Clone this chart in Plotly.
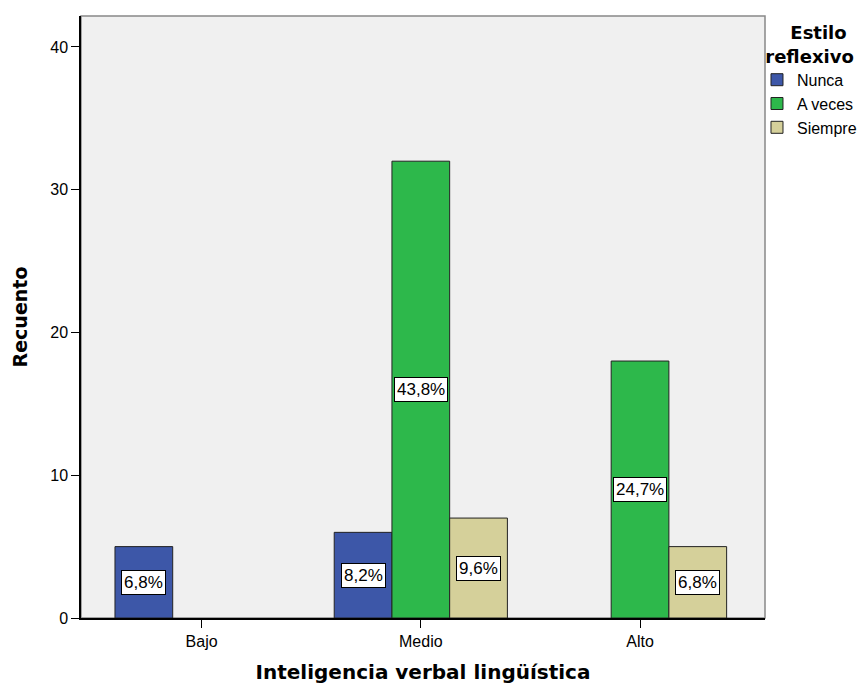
import plotly.graph_objects as go

categories = ["Bajo", "Medio", "Alto"]
series_names = ["Nunca", "A veces", "Siempre"]
nunca = [5, 6, None]
a_veces = [None, 32, 18]
siempre = [None, 7, 5]
nunca_pct = ["6,8%", "8,2%", None]
a_veces_pct = [None, "43,8%", "24,7%"]
siempre_pct = [None, "9,6%", "6,8%"]

colors = ["#3d57a8", "#2db84b", "#d5d09a"]
series_vals = [nunca, a_veces, siempre]
series_pct = [nunca_pct, a_veces_pct, siempre_pct]

bargap = 0.21
nser = len(series_names)
bw = (1 - bargap) / nser

SANS = "Liberation Sans, Arial"
BOLD = "DejaVu Sans, Verdana"

fig = go.Figure()
for name, vals, col in zip(series_names, series_vals, colors):
    fig.add_trace(go.Bar(
        x=categories, y=vals, name=name,
        marker=dict(color=col, line=dict(color="#222222", width=1)),
    ))

annotations = []
for j, (vals, pcts) in enumerate(zip(series_vals, series_pct)):
    off = (j - (nser - 1) / 2) * bw
    for i, (v, p) in enumerate(zip(vals, pcts)):
        if v is None or p is None:
            continue
        annotations.append(dict(
            x=i + off, y=v / 2, xref="x", yref="y", text=p, showarrow=False,
            font=dict(family=SANS, size=17, color="black"),
            bgcolor="white", bordercolor="black", borderwidth=1, borderpad=2,
        ))

fig.update_layout(
    width=867, height=685,
    barmode="group", bargap=bargap, bargroupgap=0,
    paper_bgcolor="white", plot_bgcolor="#f0f0f0",
    margin=dict(l=81, r=102, t=16, b=67, autoexpand=False),
    font=dict(family=SANS, size=16, color="black"),
    annotations=annotations,
    legend=dict(
        x=0.9883, xanchor="left", y=1.0, yanchor="top",
        title=dict(text="<b>&nbsp;&nbsp;&nbsp;&nbsp;&nbsp;Estilo<br>&nbsp;reflexivo</b>", side="top",
                   font=dict(family=BOLD, size=18)),
        font=dict(family=SANS, size=16), bgcolor="rgba(0,0,0,0)",
        tracegroupgap=0, itemwidth=30,
    ),
    shapes=[dict(type="rect", xref="paper", yref="paper", x0=0, y0=0, x1=1, y1=1,
                 line=dict(color="#888888", width=1.5), layer="below")],
)
fig.update_xaxes(
    range=[-0.55, 2.57], showline=True, linecolor="black", linewidth=1.5,
    ticks="outside", ticklen=8, tickcolor="black",
    title=dict(text="<b>Inteligencia verbal lingüística</b>",
               font=dict(family=BOLD, size=20), standoff=16),
    tickfont=dict(size=16), showgrid=False,
)
fig.update_yaxes(
    range=[0, 42.17], showline=True, linecolor="black", linewidth=1.5,
    ticks="outside", ticklen=8, tickcolor="black", dtick=10,
    title=dict(text="<b>Recuento</b>", font=dict(family=BOLD, size=19), standoff=18),
    tickfont=dict(size=16), showgrid=False, zeroline=False,
)

fig.write_html("out.html", config={"displayModeBar": False},
               post_script="document.body.style.margin='0px';")
